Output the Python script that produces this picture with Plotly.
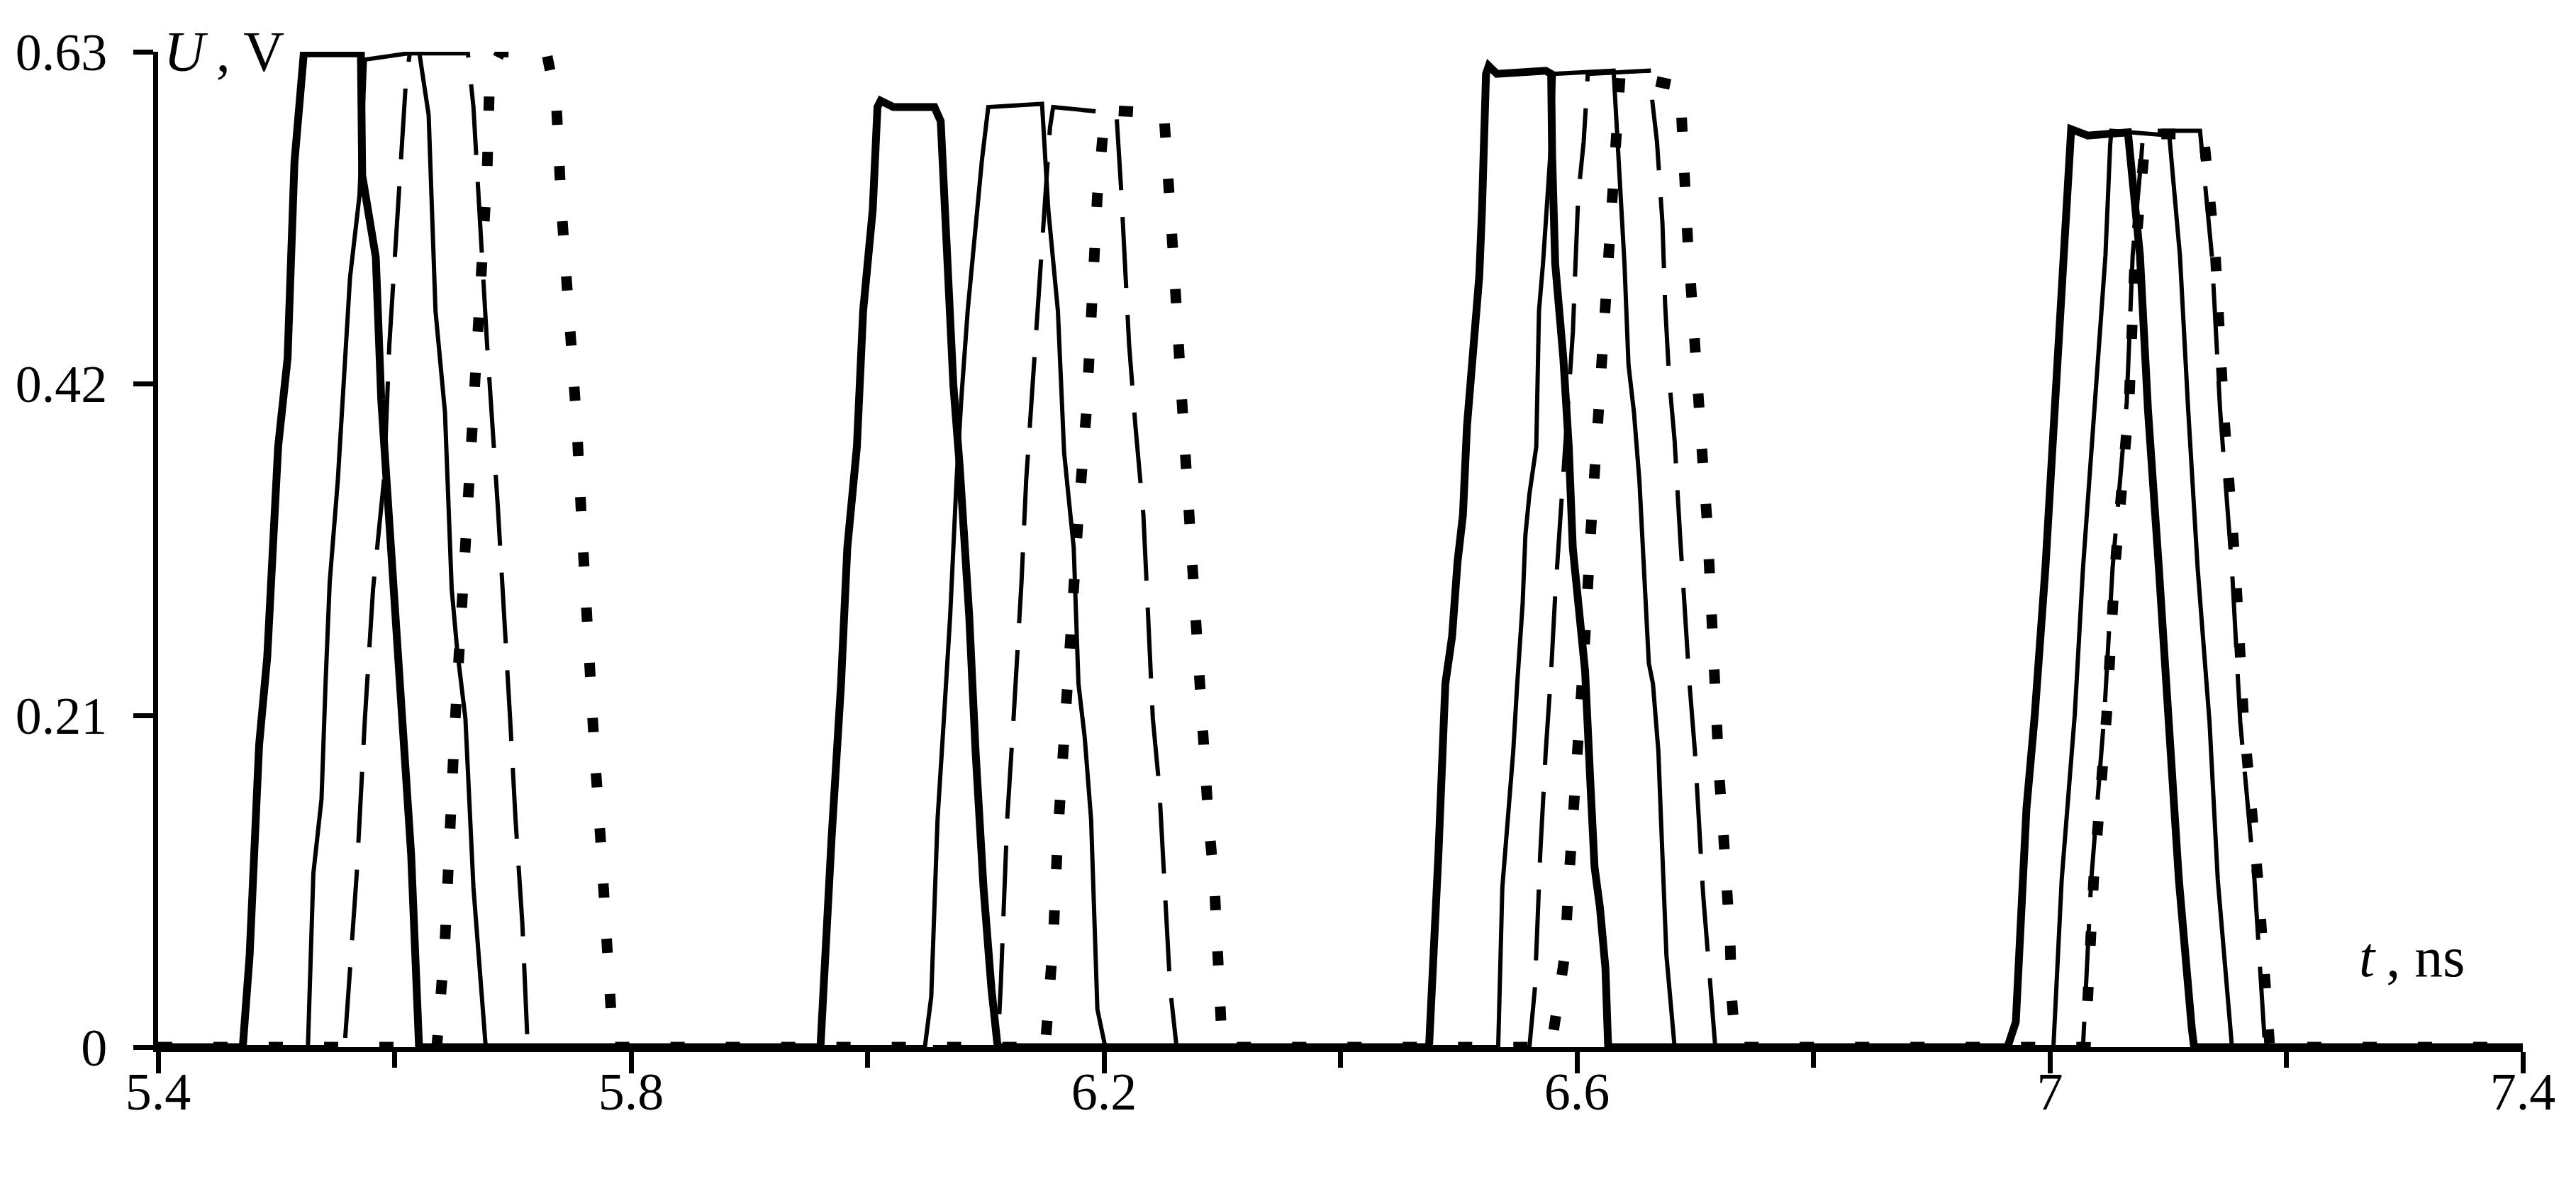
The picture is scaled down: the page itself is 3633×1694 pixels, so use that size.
import plotly.graph_objects as go

# ---- data (t in ns, U in V) ----
thick_t = [5.4, 5.4716, 5.4774, 5.4854, 5.4923, 5.5015, 5.5095, 5.5153, 5.5232, 5.5715, 5.5726, 5.5841, 5.5887, 5.5979, 5.6070, 5.6140, 5.6207,
           5.9602, 5.9695, 5.9776, 5.9829, 5.9910, 5.9963, 6.0044, 6.0084, 6.0111, 6.0218, 6.0566, 6.0619, 6.0673, 6.0726, 6.0780, 6.0860, 6.0914, 6.0981, 6.1048, 6.1101,
           6.4749, 6.4784, 6.4829, 6.4887, 6.4944, 6.4990, 6.5036, 6.5070, 6.5116, 6.5174, 6.5197, 6.5231, 6.5254, 6.5323, 6.5736, 6.5782, 6.5790, 6.5816, 6.5885, 6.5931, 6.5965, 6.6011, 6.6069, 6.6115, 6.6149, 6.6195, 6.6241, 6.6264,
           6.9642, 6.9712, 6.9762, 6.9802, 6.9872, 6.9962, 7.0042, 7.0112, 7.018, 7.032, 7.066, 7.0762, 7.083, 7.0922, 7.100, 7.1091, 7.120, 7.122,
           7.4]
thick_u = [0, 0, 0.058, 0.191, 0.247, 0.380, 0.436, 0.560, 0.629, 0.629, 0.552, 0.500, 0.410, 0.307, 0.187, 0.122, 0,
           0, 0.131, 0.230, 0.316, 0.380, 0.466, 0.530, 0.595, 0.599, 0.595, 0.595, 0.586, 0.509, 0.419, 0.367, 0.273, 0.187, 0.101, 0.037, 0,
           0, 0.067, 0.123, 0.230, 0.260, 0.307, 0.337, 0.393, 0.436, 0.488, 0.530, 0.616, 0.621, 0.616, 0.618, 0.616, 0.565, 0.496, 0.436, 0.380, 0.316, 0.281, 0.238, 0.165, 0.114, 0.088, 0.050, 0,
           0, 0.016, 0.091, 0.151, 0.210, 0.303, 0.405, 0.501, 0.581, 0.577, 0.579, 0.501, 0.403, 0.303, 0.206, 0.106, 0.012, 0,
           0]

thin_t = [5.4, 5.5267, 5.5313, 5.5382, 5.5416, 5.5451, 5.5520, 5.5566, 5.5623, 5.5703, 5.5749, 5.6208, 5.6288, 5.6346, 5.6426, 5.6483, 5.6530, 5.6599, 5.6667, 5.6771,
          6.0485, 6.0539, 6.0592, 6.0646, 6.0699, 6.0753, 6.0793, 6.0847, 6.0914, 6.0967, 6.1021, 6.1476, 6.1529, 6.1610, 6.1663, 6.1744, 6.1784, 6.1837, 6.1891, 6.1944, 6.2011,
          6.5334, 6.5369, 6.5403, 6.5461, 6.5495, 6.5541, 6.5564, 6.5598, 6.5656, 6.5679, 6.5713, 6.5759, 6.5782, 6.5805, 6.6310, 6.6344, 6.6402, 6.6436, 6.6482, 6.6528, 6.6562, 6.6608, 6.6643, 6.6689, 6.6711, 6.6757, 6.6826,
          7.003, 7.010, 7.021, 7.028, 7.038, 7.047, 7.051, 7.052, 7.101, 7.110, 7.117, 7.125, 7.135, 7.142, 7.154,
          7.4]
thin_u = [0, 0, 0.110, 0.157, 0.230, 0.294, 0.359, 0.419, 0.487, 0.539, 0.625, 0.630, 0.590, 0.466, 0.402, 0.290, 0.251, 0.208, 0.101, 0,
          0, 0.032, 0.144, 0.208, 0.273, 0.359, 0.410, 0.466, 0.518, 0.561, 0.595, 0.597, 0.530, 0.466, 0.376, 0.316, 0.230, 0.196, 0.144, 0.024, 0,
          0, 0.101, 0.131, 0.187, 0.230, 0.281, 0.324, 0.350, 0.380, 0.466, 0.496, 0.543, 0.573, 0.616, 0.618, 0.573, 0.496, 0.432, 0.402, 0.359, 0.307, 0.243, 0.230, 0.187, 0.144, 0.058, 0,
          0, 0.106, 0.210, 0.303, 0.405, 0.501, 0.571, 0.580, 0.577, 0.501, 0.403, 0.303, 0.206, 0.106, 0,
          0]

dash_t = [5.4, 5.5577, 5.5680, 5.5749, 5.5818, 5.5910, 5.5956, 5.6025, 5.6093, 5.6128, 5.6620, 5.6667, 5.6713, 5.6782, 5.6874, 5.6931, 5.6977, 5.7023, 5.7080, 5.7126,
          6.1101, 6.1128, 6.1181, 6.1235, 6.1302, 6.1342, 6.1396, 6.1449, 6.1503, 6.1543, 6.1570, 6.2105, 6.2145, 6.2186, 6.2212, 6.2266, 6.2333, 6.2373, 6.2413, 6.2467, 6.2507, 6.2560, 6.2614,
          6.5598, 6.5644, 6.5690, 6.5736, 6.5782, 6.5816, 6.5851, 6.5908, 6.5966, 6.5988, 6.6011, 6.6057, 6.6092, 6.6608, 6.6677, 6.6723, 6.6746, 6.6780, 6.6826, 6.6872, 6.6906, 6.6952, 6.6998, 6.7032, 6.7067, 6.7113, 6.7170,
          7.028, 7.035, 7.046, 7.053, 7.065, 7.070, 7.077, 7.079, 7.127, 7.137, 7.144, 7.154, 7.161, 7.173, 7.182,
          7.4]
dash_u = [0, 0, 0.110, 0.208, 0.290, 0.359, 0.445, 0.530, 0.608, 0.629, 0.629, 0.595, 0.530, 0.445, 0.341, 0.273, 0.208, 0.144, 0.079, 0,
          0, 0.041, 0.144, 0.208, 0.294, 0.359, 0.419, 0.475, 0.530, 0.582, 0.595, 0.591, 0.543, 0.488, 0.445, 0.393, 0.337, 0.273, 0.208, 0.165, 0.110, 0.037, 0,
          0, 0.037, 0.123, 0.187, 0.238, 0.286, 0.324, 0.393, 0.453, 0.496, 0.539, 0.573, 0.616, 0.618, 0.573, 0.522, 0.470, 0.423, 0.384, 0.324, 0.281, 0.230, 0.187, 0.144, 0.097, 0.054, 0,
          0, 0.106, 0.210, 0.303, 0.408, 0.501, 0.560, 0.580, 0.580, 0.501, 0.403, 0.303, 0.206, 0.106, 0,
          0]

dot_t = [5.4, 5.6357, 5.6426, 5.6461, 5.6507, 5.6564, 5.6610, 5.6656, 5.6690, 5.6747, 5.6782, 5.6805, 5.6897, 5.7286, 5.7367, 5.7412, 5.7482, 5.7539, 5.7585, 5.7631, 5.7688, 5.7746, 5.7792, 5.7826, 5.7849,
         6.1503, 6.1570, 6.1610, 6.1663, 6.1730, 6.1784, 6.1851, 6.1891, 6.1944, 6.1985, 6.2011, 6.2507, 6.2547, 6.2601, 6.2654, 6.2708, 6.2761, 6.2815, 6.2882, 6.2935, 6.2962, 6.2989, 6.3000,
         6.5782, 6.5897, 6.5931, 6.5977, 6.6023, 6.6069, 6.6115, 6.6161, 6.6207, 6.6252, 6.6298, 6.6333, 6.6367, 6.6872, 6.6895, 6.6906, 6.6941, 6.6975, 6.6998, 6.7021, 6.7067, 6.7101, 6.7124, 6.7136, 6.7159, 6.7170, 6.7205, 6.7239, 6.7273, 6.7296, 6.7308, 6.7342,
         7.030, 7.037, 7.048, 7.055, 7.067, 7.072, 7.079, 7.081, 7.130, 7.140, 7.147, 7.157, 7.164, 7.176, 7.186,
         7.4]
dot_u = [0, 0, 0.067, 0.144, 0.200, 0.273, 0.333, 0.385, 0.436, 0.487, 0.552, 0.616, 0.630, 0.629, 0.599, 0.530, 0.462, 0.397, 0.328, 0.260, 0.191, 0.127, 0.062, 0.024, 0,
         0, 0.067, 0.135, 0.200, 0.273, 0.337, 0.402, 0.470, 0.539, 0.573, 0.593, 0.591, 0.552, 0.483, 0.415, 0.346, 0.281, 0.213, 0.146, 0.101, 0.045, 0.007, 0,
         0, 0.058, 0.105, 0.153, 0.208, 0.260, 0.324, 0.380, 0.436, 0.488, 0.545, 0.582, 0.616, 0.608, 0.573, 0.539, 0.505, 0.470, 0.436, 0.404, 0.367, 0.333, 0.299, 0.269, 0.236, 0.202, 0.170, 0.135, 0.101, 0.067, 0.032, 0,
         0, 0.106, 0.210, 0.303, 0.408, 0.501, 0.560, 0.578, 0.578, 0.501, 0.403, 0.303, 0.206, 0.106, 0,
         0]

x_tick_vals = [5.4, 5.8, 6.2, 6.6, 7.0, 7.4]
x_tick_text = ["5.4", "5.8", "6.2", "6.6", "7", "7.4"]
x_minor_vals = [5.6, 6.0, 6.4, 6.8, 7.2]
y_tick_vals = [0, 0.21, 0.42, 0.63]
y_tick_text = ["0", "0.21", "0.42", "0.63"]

FONT = "Liberation Serif"
FS = 74
FS_LABEL = 80

fig = go.Figure()
fig.add_trace(go.Scatter(x=dot_t, y=dot_u, mode="lines",
                         line=dict(color="black", width=15, dash="20px,58px")))
fig.add_trace(go.Scatter(x=dash_t, y=dash_u, mode="lines",
                         line=dict(color="black", width=6, dash="100px,38px")))
fig.add_trace(go.Scatter(x=thin_t, y=thin_u, mode="lines",
                         line=dict(color="black", width=6)))
fig.add_trace(go.Scatter(x=thick_t, y=thick_u, mode="lines",
                         line=dict(color="black", width=11)))

fig.update_layout(
    width=3633, height=1694,
    paper_bgcolor="white", plot_bgcolor="white",
    showlegend=False,
    margin=dict(l=215, r=83, t=65, b=225, autoexpand=False),
    font=dict(family=FONT, size=FS, color="black"),
    xaxis=dict(range=[5.4, 7.4], showgrid=False, zeroline=False, automargin=False,
               showline=True, linecolor="black", linewidth=7,
               tickmode="array", tickvals=x_tick_vals, ticktext=x_tick_text,
               ticks="outside", ticklen=30, tickwidth=7, tickcolor="black",
               ticklabelstandoff=-38,
               minor=dict(tickvals=x_minor_vals, ticks="outside", ticklen=22,
                          tickwidth=7, tickcolor="black", showgrid=False),
               tickfont=dict(family=FONT, size=FS)),
    yaxis=dict(range=[0, 0.63], showgrid=False, zeroline=False, automargin=False,
               showline=True, linecolor="black", linewidth=7,
               tickmode="array", tickvals=y_tick_vals, ticktext=y_tick_text,
               ticks="outside", ticklen=28, tickwidth=7, tickcolor="black",
               ticklabelstandoff=22,
               tickfont=dict(family=FONT, size=FS)),
)

fig.add_annotation(x=5.4035, y=0.63, xref="x", yref="y", xanchor="left", yanchor="middle",
                   text="<i>U</i>\u2009, V", showarrow=False, font=dict(family=FONT, size=FS_LABEL))
fig.add_annotation(x=7.2600, y=0.057, xref="x", yref="y", xanchor="left", yanchor="middle",
                   text="<i>t</i>\u2009, ns", showarrow=False, font=dict(family=FONT, size=FS_LABEL))

fig.write_html("out.html")
